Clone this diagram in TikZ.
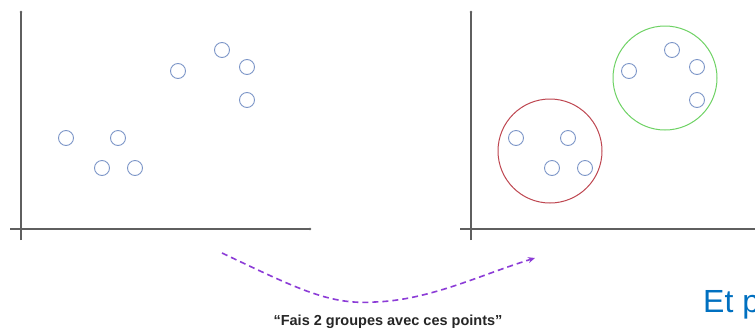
\documentclass[tikz,border=0pt]{standalone}
\usepackage{fontspec}
\setmainfont{Liberation Sans}
\usetikzlibrary{arrows.meta}
\definecolor{ptcol}{RGB}{125,150,200}
\definecolor{axcol}{RGB}{95,95,95}
\definecolor{redc}{RGB}{190,70,80}
\definecolor{greenc}{RGB}{110,210,100}
\definecolor{arrc}{RGB}{140,60,215}
\definecolor{blued}{RGB}{0,112,192}
\begin{document}
\begin{tikzpicture}[x=1pt,y=-1pt,
  pt/.style={circle,draw=ptcol,line width=0.9pt,minimum size=15pt,inner sep=0pt},
  axis/.style={draw=axcol,line width=1.1pt},
  grp/.style={circle,line width=1pt,inner sep=0pt,minimum size=104pt}]
\useasboundingbox (0,0) rectangle (755,330);
\fill[white] (0,0) rectangle (755,330);
% left axes
\coordinate (ly1) at (21,12); \coordinate (ly2) at (21,240);
\coordinate (lx1) at (10,229); \coordinate (lx2) at (310,229);
\draw[axis] (ly2) -- (ly1);
\fill[axcol] (ly1) circle (1.3);
\draw[axis] (lx1) -- (lx2);
\fill[axcol] (lx2) circle (1.3);
% left points
\node[pt] (a1) at (66,138) {};
\node[pt] (a2) at (118,138) {};
\node[pt] (a3) at (102,168) {};
\node[pt] (a4) at (135,168) {};
\node[pt] (a5) at (178,71) {};
\node[pt] (a6) at (222,50) {};
\node[pt] (a7) at (247,67) {};
\node[pt] (a8) at (247,100) {};
% right axes
\coordinate (ry1) at (471,12); \coordinate (ry2) at (471,240);
\coordinate (rx1) at (460,229); \coordinate (rx2) at (755,229);
\draw[axis] (ry2) -- (ry1);
\fill[axcol] (ry1) circle (1.3);
\draw[axis] (rx1) -- (rx2);
% right points
\node[pt] (b1) at (516,138) {};
\node[pt] (b2) at (568,138) {};
\node[pt] (b3) at (552,168) {};
\node[pt] (b4) at (585,168) {};
\node[pt] (b5) at (629,71) {};
\node[pt] (b6) at (672,50) {};
\node[pt] (b7) at (697,67) {};
\node[pt] (b8) at (697,100) {};
% groups
\node[grp,draw=redc] (g1) at (550,151) {};
\node[grp,draw=greenc] (g2) at (665,78) {};
% arrow
\coordinate (s) at (222,253);
\coordinate (e) at (535,258);
\draw[arrc,line width=1.6pt,dash pattern=on 6pt off 4pt,-{Stealth[length=7pt,width=6pt]}]
  (s) .. controls (300,290) and (330,305) .. (375,302)
      .. controls (430,300) and (480,275) .. (e);
\node[font=\bfseries\fontsize{14.5}{16}\selectfont,text=black!85] (t) at (388,322) {“Fais 2 groupes avec ces points”};
\node[font=\fontsize{32}{36}\selectfont,text=blued,anchor=base west,inner sep=0pt] (et) at (703,312) {Et p};
\end{tikzpicture}
\end{document}
